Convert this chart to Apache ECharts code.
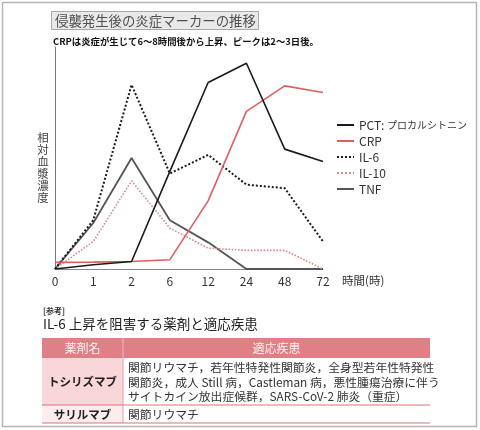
<!DOCTYPE html>
<html>
<head>
<meta charset="utf-8">
<script src="https://cdn.jsdelivr.net/npm/echarts@6/dist/echarts.min.js"></script>
<style>
html,body{margin:0;padding:0;background:#fff;}
#c{width:480px;height:430px;}
</style>
</head>
<body>
<div id="c"></div>
<script>
const categories = ['0', '1', '2', '6', '12', '24', '48', '72'];
const seriesNames = ['PCT：プロカルシトニン', 'CRP', 'IL-6', 'IL-10', 'TNF'];
const pct  = [0, 1.9, 3.4, 44, 84, 92.7, 54, 48.4];
const crp  = [3, 3.1, 3.4, 4.2, 30.7, 71, 82.5, 79.5];
const il6  = [0, 22, 83, 43, 51.4, 38, 36.4, 12.4];
const il10 = [0, 12.4, 39.7, 18.4, 9.4, 8.4, 8.4, 0];
const tnf  = [0, 20.7, 50, 22, 12, 0, 0, 0];

const titleText = '侵襲発生後の炎症マーカーの推移';
const subtitleText = 'CRPは炎症が生じて6～8時間後から上昇、ピークは2～3日後。';
const yAxisName = '相対血漿濃度';
const xAxisName = '時間(時)';
const refLabel = '[参考]';
const tableTitle = 'IL-6 上昇を阻害する薬剤と適応疾患';
const tableHeader = ['薬剤名', '適応疾患'];
const drugs = ['トシリズマブ', 'サリルマブ'];
const indications = [
  ['関節リウマチ，若年性特発性関節炎，全身型若年性特発性', '関節炎，成人 Still 病，Castleman 病，悪性腫瘍治療に伴う', 'サイトカイン放出症候群，SARS-CoV-2 肺炎（重症）'],
  ['関節リウマチ']
];

const FONT = '"Noto Sans CJK JP", "Noto Sans", sans-serif';
const chart = echarts.init(document.getElementById('c'), null, {renderer: 'canvas'});

const gfx = [];
// outer frame
gfx.push({type: 'rect', shape: {x: 2.5, y: 2.5, width: 474, height: 424}, style: {fill: null, stroke: '#b5b5b5', lineWidth: 1.5}, silent: true});
// title box
gfx.push({type: 'rect', shape: {x: 51.5, y: 11.5, width: 207, height: 18}, style: {fill: '#e9e9e9', stroke: '#a8a8a8', lineWidth: 1}});
gfx.push({type: 'text', style: {text: titleText, x: 55, y: 21, font: '13.4px ' + FONT, fill: '#505050', textVerticalAlign: 'middle'}});
gfx.push({type: 'text', style: {text: subtitleText, x: 53, y: 41, font: 'bold 9.4px ' + FONT, fill: '#111', textVerticalAlign: 'middle'}});
// y axis name (vertical)
gfx.push({type: 'text', style: {text: yAxisName.split('').join('\n'), x: 43, y: 132, font: '11.5px ' + FONT, fill: '#444', textAlign: 'center', lineHeight: 12}});
// x axis name
gfx.push({type: 'text', style: {text: xAxisName, x: 342, y: 281, font: '11.5px ' + FONT, fill: '#333', textVerticalAlign: 'middle'}});
// reference section
gfx.push({type: 'text', style: {text: refLabel, x: 43, y: 311, font: 'bold 8px ' + FONT, fill: '#333', textVerticalAlign: 'middle'}});
gfx.push({type: 'text', style: {text: tableTitle, x: 43, y: 324, font: '13.5px ' + FONT, fill: '#222', textVerticalAlign: 'middle'}});
// table
const tx = 42, tw = 388, c1 = 123;
const hy = 338, hh = 20, r1 = 358, r1h = 47, r2 = 405, r2h = 18;
gfx.push({type: 'rect', shape: {x: tx, y: hy, width: tw, height: hh}, style: {fill: '#df7f86'}});
gfx.push({type: 'rect', shape: {x: tx, y: r1, width: c1 - tx, height: r1h}, style: {fill: '#f8d6d9'}});
gfx.push({type: 'rect', shape: {x: tx, y: r2, width: c1 - tx, height: r2h}, style: {fill: '#fcecee'}});
gfx.push({type: 'line', shape: {x1: c1, y1: hy, x2: c1, y2: hy + hh}, style: {stroke: '#f0b8bc', lineWidth: 1}});
gfx.push({type: 'line', shape: {x1: c1, y1: r1, x2: c1, y2: r2 + r2h}, style: {stroke: '#e9a0a6', lineWidth: 1}});
gfx.push({type: 'line', shape: {x1: tx, y1: r2, x2: tx + tw, y2: r2}, style: {stroke: '#d9737b', lineWidth: 1}});
gfx.push({type: 'line', shape: {x1: tx, y1: r2 + r2h, x2: tx + tw, y2: r2 + r2h}, style: {stroke: '#d9737b', lineWidth: 1}});
gfx.push({type: 'text', style: {text: tableHeader[0], x: (tx + c1) / 2, y: hy + hh / 2, font: '12px ' + FONT, fill: '#fff3f3', textAlign: 'center', textVerticalAlign: 'middle'}});
gfx.push({type: 'text', style: {text: tableHeader[1], x: (c1 + tx + tw) / 2, y: hy + hh / 2, font: '12px ' + FONT, fill: '#fff3f3', textAlign: 'center', textVerticalAlign: 'middle'}});
gfx.push({type: 'text', style: {text: drugs[0], x: (tx + c1) / 2, y: r1 + r1h / 2, font: 'bold 11.5px ' + FONT, fill: '#222', textAlign: 'center', textVerticalAlign: 'middle'}});
gfx.push({type: 'text', style: {text: drugs[1], x: (tx + c1) / 2, y: r2 + r2h / 2 + 1, font: 'bold 11.5px ' + FONT, fill: '#222', textAlign: 'center', textVerticalAlign: 'middle'}});
indications[0].forEach((t, i) => {
  gfx.push({type: 'text', style: {text: t, x: 128, y: 368 + i * 14.5, font: '11.8px ' + FONT, fill: '#333', textVerticalAlign: 'middle'}});
});
gfx.push({type: 'text', style: {text: indications[1][0], x: 128, y: r2 + r2h / 2 + 1, font: '11.8px ' + FONT, fill: '#333', textVerticalAlign: 'middle'}});

const colors = ['#1a1a1a', '#de5f5f', '#1a1a1a', '#d98b8e', '#555555'];
const lineTypes = ['solid', 'solid', 'dotted', 'dotted', 'solid'];
const widths = [1.6, 1.6, 2, 1.6, 1.8];
const dataSets = [pct, crp, il6, il10, tnf];

chart.setOption({
  animation: false,
  backgroundColor: '#fff',
  textStyle: {fontFamily: FONT},
  grid: {left: 55, right: 157, top: 47, bottom: 161, containLabel: false},
  legend: {
    orient: 'vertical', left: 331, top: 114, itemGap: 4, itemWidth: 17, itemHeight: 12,
    itemStyle: {opacity: 0},
    textStyle: {fontSize: 12, color: '#333', fontFamily: FONT,
      rich: {a: {fontSize: 12, color: '#333', fontFamily: FONT}, b: {fontSize: 10, color: '#333', fontFamily: FONT}}},
    formatter: function (n) {
      if (n.indexOf('：') > -1) {
        const p = n.split('：');
        return '{a|' + p[0] + ': }{b|' + p[1] + '}';
      }
      return n;
    },
    data: seriesNames
  },
  xAxis: {
    type: 'category', data: categories, boundaryGap: false,
    axisLine: {lineStyle: {color: '#888', width: 1}},
    axisTick: {show: false},
    axisLabel: {color: '#333', fontSize: 12, margin: 6}
  },
  yAxis: {
    type: 'value', min: 0, max: 100,
    axisLine: {show: true, lineStyle: {color: '#777', width: 1}},
    axisTick: {show: false}, axisLabel: {show: false}, splitLine: {show: false}
  },
  series: seriesNames.map((n, i) => ({
    name: n, type: 'line', data: dataSets[i], symbol: 'none',
    lineStyle: {color: colors[i], width: widths[i], type: lineTypes[i]},
    itemStyle: {color: colors[i]},
    z: 10 - i
  })),
  graphic: gfx
});
</script>
</body>
</html>
